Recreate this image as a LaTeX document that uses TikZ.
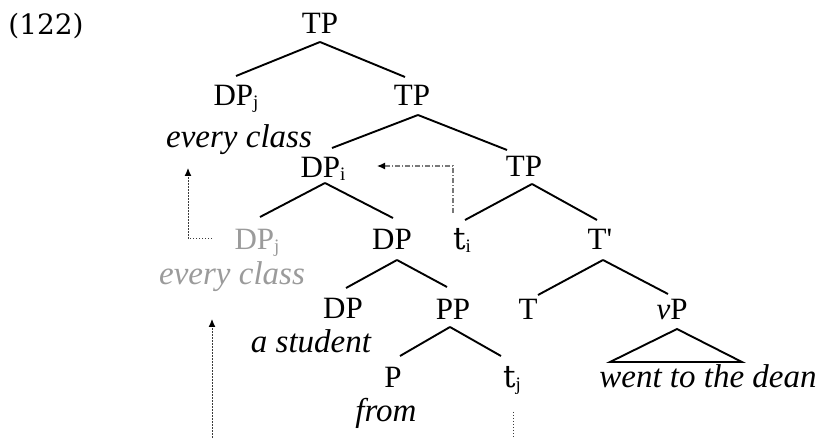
\documentclass[tikz,border=0pt]{standalone}
\usepackage{fontspec}
\setmainfont{Liberation Serif}
\newfontfamily\geo{DejaVu Serif}
\usetikzlibrary{arrows.meta}
\definecolor{ghost}{RGB}{155,155,155}
\definecolor{dashgrey}{RGB}{120,120,120}
\definecolor{dotgrey}{RGB}{60,60,60}
\newcommand\sbs[1]{\raisebox{-2.5pt}{\fontsize{19}{22}\selectfont #1}}
\begin{document}
\begin{tikzpicture}[x=1pt,y=-1pt,
  lab/.style={inner sep=0pt,anchor=base,font=\fontsize{31}{36}\selectfont},
  wrd/.style={inner sep=0pt,anchor=base,font=\itshape\fontsize{33}{38}\selectfont},
  ghosty/.style={text=ghost},
  branch/.style={line width=1.9pt},
  tip/.style={-{Latex[length=8pt,width=7pt,color=black]}},
  mvdash/.style={tip,draw=dashgrey,line width=1.2pt,dash pattern=on 5pt off 2pt on 1pt off 2pt},
  mvdot/.style={draw=dotgrey,line width=1pt,dash pattern=on 1.5pt off 1.5pt}]
\useasboundingbox (0,0) rectangle (820,438);

\node[inner sep=0pt,font=\geo\fontsize{28}{32}\selectfont] (ex) at (46,26) {(122)};

\node[lab] (TP1) at (320,34) {TP};
\node[lab] (DPj) at (236,106) {DP\sbs{j}};
\node[wrd] (ec1) at (239,148) {every class};
\node[lab] (TP2) at (412,106) {TP};
\node[lab] (DPi) at (323,178) {DP\sbs{i}};
\node[lab] (TP3) at (524,177) {TP};
\node[lab,ghosty] (DPg) at (257,250) {DP\sbs{j}};
\node[wrd,ghosty] (ec2) at (232,285) {every class};
\node[lab] (DP4) at (392,250) {DP};
\node[lab] (ti) at (462,250) {{\geo t}\sbs{i}};
\node[lab] (Tbar) at (600,250) {T\textquotesingle};
\node[lab] (DP5) at (343,319) {DP};
\node[wrd] (ast) at (311,353) {a student};
\node[lab] (PP) at (453,320) {PP};
\node[lab] (T) at (528,320) {T};
\node[lab] (vP) at (672,320) {{\itshape v}P};
\node[lab] (P) at (393,388) {P};
\node[wrd] (from) at (386,422) {from};
\node[lab] (tj) at (512,388) {{\geo t}\sbs{j}};
\node[wrd] (went) at (708,388) {went to the dean};

\draw[branch] ([yshift=-8pt]TP1.base) -- ([yshift=30pt]DPj.base);
\draw[branch] ([yshift=-8pt]TP1.base) -- ([xshift=-7pt,yshift=29pt]TP2.base);
\draw[branch] ([xshift=6pt,yshift=-9pt]TP2.base) -- ([xshift=9pt,yshift=30pt]DPi.base);
\draw[branch] ([xshift=6pt,yshift=-9pt]TP2.base) -- ([xshift=-17pt,yshift=27pt]TP3.base);
\draw[branch] ([xshift=2pt,yshift=-5pt]DPi.base) -- ([xshift=3pt,yshift=33pt]DPg.base);
\draw[branch] ([xshift=2pt,yshift=-5pt]DPi.base) -- ([xshift=1pt,yshift=32pt]DP4.base);
\draw[branch] ([xshift=8pt,yshift=-7pt]TP3.base) -- ([xshift=3pt,yshift=30pt]ti.base);
\draw[branch] ([xshift=8pt,yshift=-7pt]TP3.base) -- ([xshift=-3pt,yshift=30pt]Tbar.base);
\draw[branch] ([xshift=5pt,yshift=-10pt]DP4.base) -- ([xshift=3pt,yshift=31pt]DP5.base);
\draw[branch] ([xshift=5pt,yshift=-10pt]DP4.base) -- ([xshift=-6pt,yshift=33pt]PP.base);
\draw[branch] ([xshift=3pt,yshift=-10pt]Tbar.base) -- ([xshift=10pt,yshift=25pt]T.base);
\draw[branch] ([xshift=3pt,yshift=-10pt]Tbar.base) -- ([xshift=-4pt,yshift=26pt]vP.base);
\draw[branch] ([xshift=-3pt,yshift=-7pt]PP.base) -- ([xshift=7pt,yshift=32pt]P.base);
\draw[branch] ([xshift=-3pt,yshift=-7pt]PP.base) -- ([xshift=-11pt,yshift=32pt]tj.base);
\draw[branch,line join=miter] ([xshift=5pt,yshift=-9pt]vP.base)
  -- ([xshift=-98pt,yshift=26pt]went.base) -- ([xshift=34pt,yshift=26pt]went.base) -- cycle;

% movement traces
\coordinate (m1s) at ([xshift=-9pt,yshift=37pt]ti.base);
\coordinate (m1e) at ([xshift=54pt,yshift=12pt]DPi.base);
\draw[mvdash] (m1s) |- (m1e);

\coordinate (m2s) at ([xshift=-45pt,yshift=11pt]DPg.base);
\coordinate (m2e) at ([xshift=-51pt,yshift=-20pt]ec1.base);
\draw[mvdot,tip] (m2s) -| (m2e);

\coordinate (b1) at (212,438);
\coordinate (m3e) at ([xshift=-19pt,yshift=-34pt]ec2.base);
\draw[mvdot,tip] (b1) -- (b1 |- m3e);

\coordinate (b2) at (513,438);
\coordinate (m4s) at ([xshift=1pt,yshift=-24pt]tj.base);
\draw[mvdot] (m4s) -- (m4s |- b2);
\end{tikzpicture}
\end{document}
